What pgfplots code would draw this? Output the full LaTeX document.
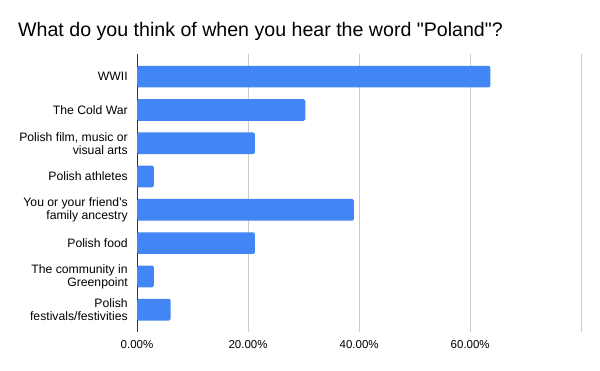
\documentclass[border=0pt]{standalone}
\usepackage{pgfplots}
\pgfplotsset{compat=1.18}
\usepackage{fontspec}
\setmainfont{Liberation Sans}[Ligatures=TeXOff]
\definecolor{barblue}{HTML}{4285F4}
\definecolor{gridgray}{HTML}{CCCCCC}
\begin{document}
\begin{tikzpicture}
\path[use as bounding box, fill=white] (0,0) rectangle (600bp,371bp);
\node[anchor=base west, font=\fontsize{19.6bp}{22bp}\selectfont, inner sep=0pt] at (18bp,334bp) {What do you think of when you hear the word "Poland"?};
\begin{axis}[
  at={(137bp,39bp)}, anchor=south west,
  scale only axis, width=444.3bp, height=278bp,
  xbar, bar width=21.7bp, bar shift=0pt,
  xmin=0, xmax=80,
  ymin=-0.68, ymax=7.67, y dir=reverse,
  axis line style={draw=none},
  tick style={draw=none},
  xtick={20,40,60,80},
  xticklabels={20.00\%,40.00\%,60.00\%,},
  extra x ticks={0},
  extra x tick labels={0.00\%},
  extra x tick style={grid style={draw=black!80, line width=0.9pt}},
  xmajorgrids, grid style={draw=gridgray, line width=0.8pt},
  xticklabel style={font=\fontsize{11.5bp}{13bp}\selectfont, yshift=-5bp},
  ytick={0,1,2,3,4,5,6,7},
  yticklabels={WWII,The Cold War,{Polish film, music or\\visual arts},Polish athletes,{You or your friend's\\family ancestry},Polish food,{The community in\\Greenpoint},{Polish\\festivals/festivities}},
  yticklabel style={font=\fontsize{12.2bp}{13bp}\selectfont, align=right, xshift=-1.5bp},
]
\addplot[fill=barblue, draw=none, rounded corners=1.5bp] coordinates {
(63.64,0) (30.30,1) (21.21,2) (3.03,3) (39.05,4) (21.21,5) (3.03,6) (6.06,7)
};
\end{axis}
\end{tikzpicture}
\end{document}
